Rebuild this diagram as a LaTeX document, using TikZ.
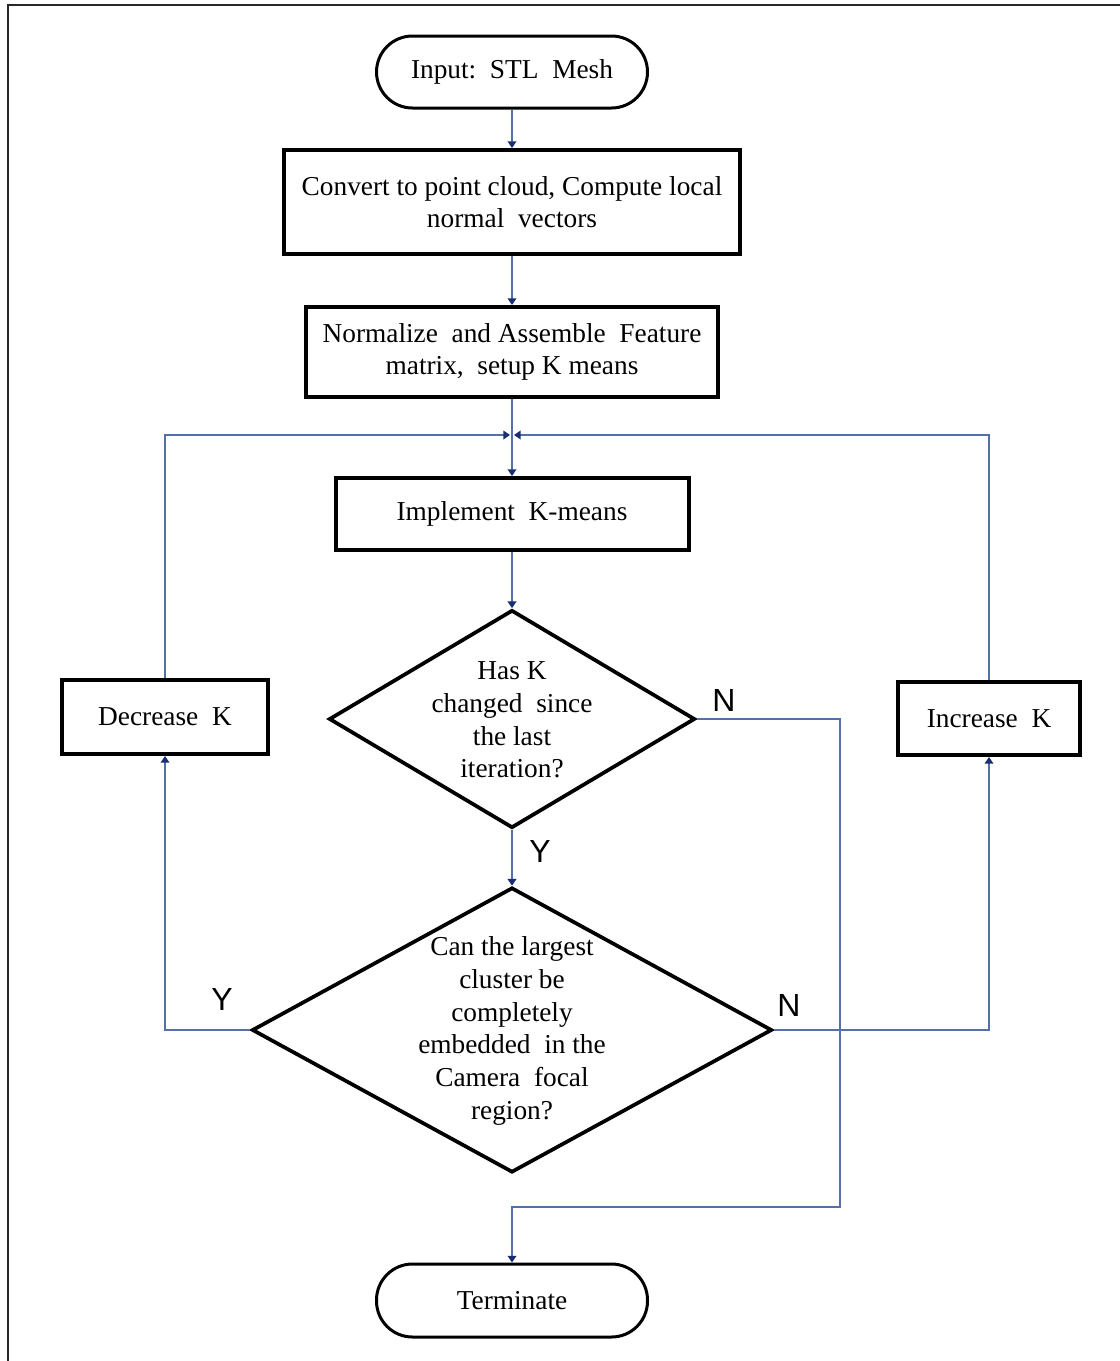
\documentclass[tikz,border=0pt]{standalone}
\usepackage{fontspec}
\setmainfont{LiberationSerif}[Extension=.ttf, UprightFont=*-Regular, BoldFont=*-Bold, ItalicFont=*-Italic, BoldItalicFont=*-BoldItalic]
\newfontfamily\labfont{Liberation Sans}
\usetikzlibrary{arrows.meta,shapes.geometric}
\definecolor{linkc}{RGB}{84,112,168}
\definecolor{tipc}{RGB}{25,45,115}
\definecolor{framec}{RGB}{40,40,40}
\newcommand{\mainsz}{\fontsize{20.5}{24.5}\selectfont}
\begin{document}
\begin{tikzpicture}[x=0.75pt,y=-0.75pt,
  procbox/.style={draw=black, line width=3pt, rectangle, inner sep=0pt, align=center, font=\mainsz},
  termbox/.style={draw=black, line width=2.25pt, rectangle, rounded corners=27pt, inner sep=0pt, align=center, font=\mainsz},
  decbox/.style={draw=black, line width=2.8pt, diamond, inner sep=0pt, line join=miter},
  dectext/.style={align=center, font=\mainsz, inner sep=0pt},
  link/.style={draw=linkc, line width=1.1pt, -{Triangle[length=5pt,width=6.5pt,color=tipc]}},
  yn/.style={font=\labfont\fontsize{24}{24}\selectfont, inner sep=0pt}
]
\useasboundingbox (0,0) rectangle (1120,1361);
% frame
\draw[framec, line width=1.5pt] (8,1361) -- (8,5) -- (1120,5);

% nodes
\node[termbox, minimum width=203.25pt, minimum height=54pt] (in) at (512,72) {Input:\ \ STL\ \ Mesh};
\node[procbox, minimum width=342pt, minimum height=78pt] (b1) at (512,202) {Convert to point cloud, Compute local\\normal\ \ vectors};
\node[procbox, minimum width=309pt, minimum height=67.5pt] (b2) at (512,352) {Normalize\ \ and Assemble\ \ Feature\\matrix,\ \ setup K means};
\node[procbox, minimum width=264.75pt, minimum height=54pt] (b3) at (512,514) {Implement\ \ K-means};
\node[decbox, minimum width=274.5pt, minimum height=163.5pt] (d1) at (512,719) {};
\node[dectext] (d1t) at (512,720) {Has K\\changed\ \ since\\the last\\iteration?};
\node[decbox, minimum width=390pt, minimum height=213.75pt] (d2) at (512,1030) {};
\node[dectext] (d2t) at (512,1031) {Can the largest\\cluster be\\completely\\embedded\ \ in the\\Camera\ \ focal\\region?};
\node[procbox, minimum width=154.5pt, minimum height=55.5pt] (dec) at (165,717) {Decrease\ \ K};
\node[procbox, minimum width=136.5pt, minimum height=54.75pt] (inc) at (989,718.5) {Increase\ \ K};
\node[termbox, minimum width=203.25pt, minimum height=54.75pt] (term) at (512,1300.5) {Terminate};

% helper coordinates
\coordinate (merge) at (512,435);
\coordinate (nturn) at (840,1207);

% connectors
\draw[link] (in.south) -- (b1.north);
\draw[link] (b1.south) -- (b2.north);
\draw[link] (b2.south) -- (b3.north);
\draw[link, shorten >=1.5pt] (dec.north) |- (merge);
\draw[link, shorten >=1.5pt] (inc.north) |- (merge);
\draw[link] (b3.south) -- (d1.north);
\draw[link] (d1.south) -- (d2.north);
\draw[link] (d1.east) -| (nturn) -| (term.north);
\draw[link] (d2.east) -| (inc.south);
\draw[link] (d2.west) -| (dec.south);

% labels
\node[yn] (ln1) at (724,700) {N};
\node[yn] (ly1) at (540,851) {Y};
\node[yn] (ly2) at (222,999) {Y};
\node[yn] (ln2) at (789,1005) {N};
\end{tikzpicture}
\end{document}
